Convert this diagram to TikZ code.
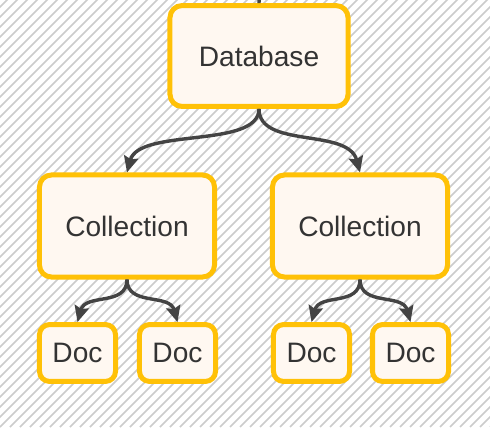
\documentclass[tikz,border=0pt]{standalone}
\usepackage{fontspec}
\setmainfont{Liberation Sans}
\usetikzlibrary{arrows.meta}
\definecolor{bord}{HTML}{FFC107}
\definecolor{fond}{HTML}{FFF8F1}
\definecolor{encre}{HTML}{333333}
\definecolor{trait}{HTML}{444444}
\definecolor{raye}{HTML}{CCCCCC}
\begin{document}
\begin{tikzpicture}[
       x=0.025cm,y=0.025cm,
       boite/.style={
         rectangle,
         rounded corners=0.3cm,
         draw=bord,
         fill=fond,
         line width=0.125cm,
         text=encre,
         font=\fontsize{20}{24}\selectfont,
         inner sep=0pt
       },
       fleche/.style={
         draw=trait,
         line width=0.085cm,
         -{Stealth[length=0.4cm,width=0.36cm,inset=0.06cm]}
       },
       hachure/.style={
         draw=raye,
         line width=0.04cm
       }
     ]

       \useasboundingbox (0,0) rectangle (490,427);
       \fill[white] (0,0) rectangle (490,427);
       \begin{scope}
         \clip (0,0) rectangle (490,427);
         \foreach \i in {-440,-430,...,490}
           \draw[hachure] (\i,0) -- ++(430,430);
       \end{scope}

       \node (db) at (259,371) [boite,minimum width=4.45cm,minimum height=2.52cm]{Database};
       \node (c1) at (127,201) [boite,minimum width=4.375cm,minimum height=2.55cm]{Collection};
       \node (c2) at (360,201) [boite,minimum width=4.375cm,minimum height=2.55cm]{Collection};
       \node (d1) at (77.5,74) [boite,rounded corners=0.25cm,minimum width=1.9cm,minimum height=1.42cm]{Doc};
       \node (d2) at (177.5,74) [boite,rounded corners=0.25cm,minimum width=1.9cm,minimum height=1.42cm]{Doc};
       \node (d3) at (311.5,74) [boite,rounded corners=0.25cm,minimum width=1.9cm,minimum height=1.42cm]{Doc};
       \node (d4) at (410.5,74) [boite,rounded corners=0.25cm,minimum width=1.9cm,minimum height=1.42cm]{Doc};

       \coordinate (haut) at (260,445);
       \draw[draw=trait,line width=0.085cm] (haut) -- (db.north);

       \draw[fleche] (db.south) .. controls +(0,-40) and +(12,45) .. (c1.north);
       \draw[fleche] (db.south) .. controls +(0,-40) and +(-12,45) .. (c2.north);
       \draw[fleche] (c1.south) .. controls +(0,-27) and +(8,29) .. (d1.north);
       \draw[fleche] (c1.south) .. controls +(0,-27) and +(-8,29) .. (d2.north);
       \draw[fleche] (c2.south) .. controls +(0,-27) and +(8,29) .. (d3.north);
       \draw[fleche] (c2.south) .. controls +(0,-27) and +(-8,29) .. (d4.north);

\end{tikzpicture}
\end{document}
